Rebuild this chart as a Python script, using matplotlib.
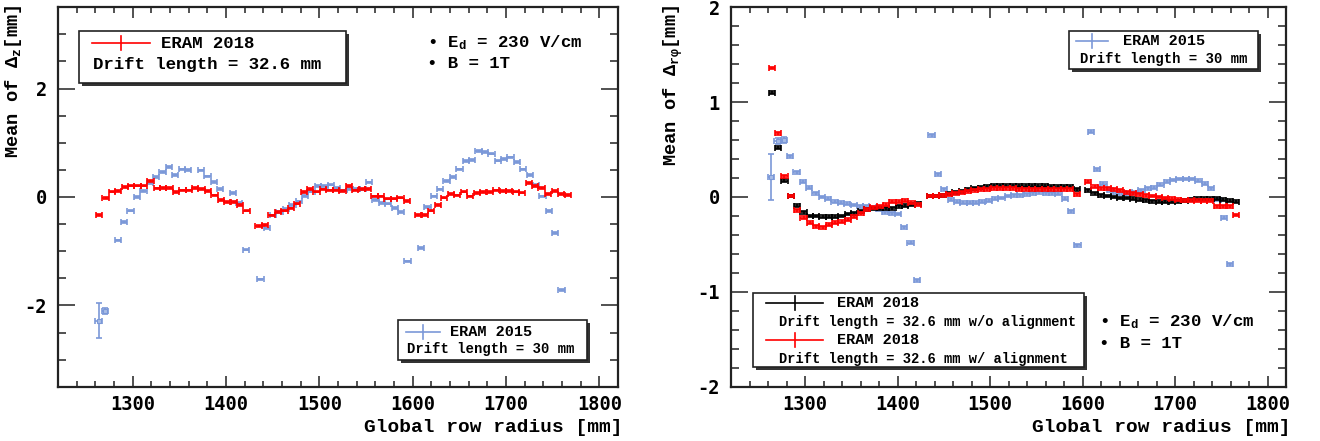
import numpy as np
import matplotlib
matplotlib.use('Agg')
import matplotlib.pyplot as plt
from matplotlib.lines import Line2D
from matplotlib.patches import Rectangle
from matplotlib.ticker import MultipleLocator

# ---------------- data ----------------
# ERAM 2018 row radii (three modules)
R18_M1 = [1264.0, 1270.9, 1277.7, 1284.6, 1291.5, 1298.4, 1305.2, 1312.1, 1319.0, 1325.8, 1332.7, 1339.6,
          1346.4, 1353.3, 1360.2, 1367.1, 1373.9, 1380.8, 1387.7, 1394.5, 1401.4, 1408.3, 1415.1, 1422.0]
R18_M2 = [1435.0, 1441.9, 1448.8, 1455.7, 1462.6, 1469.5, 1476.4, 1483.3, 1490.2, 1497.1, 1504.0, 1510.9,
          1517.8, 1524.7, 1531.6, 1538.5, 1545.4, 1552.3, 1559.2, 1566.1, 1573.0, 1579.9, 1586.8, 1593.7]
R18_M3 = [1606.0, 1613.0, 1619.9, 1626.9, 1633.8, 1640.8, 1647.8, 1654.7, 1661.7, 1668.6, 1675.6, 1682.6,
          1689.5, 1696.5, 1703.4, 1710.4, 1717.4, 1724.3, 1731.3, 1738.2, 1745.2, 1752.2, 1759.1, 1766.1]
# ERAM 2015 row radii
R15_M1 = [1263.5, 1270.4, 1277.2, 1284.1, 1290.9, 1297.8, 1304.6, 1311.5, 1318.3, 1325.2, 1332.0, 1338.9,
          1345.7, 1352.6, 1359.4, 1366.3, 1373.1, 1380.0, 1386.8, 1393.7, 1400.5, 1407.4, 1414.2, 1421.1]
R15_M2 = [1436.9, 1443.8, 1450.6, 1457.5, 1464.3, 1471.2, 1478.0, 1484.9, 1491.7, 1498.6, 1505.4, 1512.3,
          1519.1, 1526.0, 1532.8, 1539.7, 1546.5, 1553.4, 1560.2, 1567.1, 1573.9, 1580.8, 1587.6, 1594.5]
R15_M3 = [1608.9, 1615.8, 1622.6, 1629.5, 1636.3, 1643.2, 1650.0, 1656.9, 1663.7, 1670.6, 1677.4, 1684.3,
          1691.1, 1698.0, 1704.8, 1711.7, 1718.5, 1725.4, 1732.2, 1739.1, 1745.9, 1752.8, 1759.6]

NAN = float('nan')
# Left panel: mean of Delta_z
DZ_2018 = [-0.33, -0.02, 0.10, 0.11, 0.185, 0.21, 0.21, 0.21, 0.29, 0.16, 0.17, 0.17,
           0.09, 0.12, 0.12, 0.17, 0.15, 0.11, 0.03, -0.05, -0.09, -0.09, -0.15, -0.25,
           -0.54, -0.52, -0.34, -0.28, -0.25, -0.21, -0.12, 0.09, 0.15, 0.10, 0.14, 0.12,
           0.12, 0.11, 0.20, 0.12, 0.15, 0.15, 0.01, 0.01, -0.03, -0.03, -0.01, -0.07,
           -0.33, -0.33, -0.25, -0.15, -0.01, 0.06, 0.03, 0.10, 0.01, 0.07, 0.09, 0.09,
           0.12, 0.11, 0.11, 0.10, 0.08, 0.26, 0.20, 0.17, 0.06, 0.11, 0.05, 0.04]
DZ_2015 = [-2.28, -2.10, NAN, -0.80, -0.46, -0.25, 0.00, 0.11, 0.25, 0.37, 0.46, 0.55,
           0.41, 0.51, 0.50, NAN, 0.49, 0.38, 0.28, 0.15, NAN, 0.07, -0.11, -0.97,
           -1.52, -0.58, -0.34, -0.28, -0.22, -0.15, -0.08, 0.02, 0.10, 0.20, 0.20, 0.23,
           0.17, 0.12, 0.15, 0.15, 0.14, 0.27, -0.06, -0.11, -0.12, -0.20, -0.28, -1.19,
           -0.94, -0.18, 0.01, 0.14, 0.29, 0.37, 0.51, 0.66, 0.68, 0.85, 0.83, 0.80,
           0.67, 0.70, 0.73, 0.65, 0.51, 0.41, 0.23, 0.01, -0.26, -0.66, -1.72]
DZ_2015_ERR_FIRST = [0.32, 0.05]

# Right panel: mean of Delta_rphi
DRP_2018_NOALIGN = [1.10, 0.52, 0.17, 0.01, -0.09, -0.16, -0.20, -0.20, -0.21, -0.21, -0.21, -0.20,
                    -0.18, -0.17, -0.15, -0.13, -0.12, -0.12, -0.12, -0.12, -0.10, -0.09, -0.08, -0.07,
                    0.01, 0.01, 0.02, 0.035, 0.05, 0.06, 0.075, 0.09, 0.10, 0.11, 0.12, 0.12,
                    0.12, 0.12, 0.12, 0.12, 0.12, 0.12, 0.12, 0.11, 0.11, 0.11, 0.11, 0.08,
                    0.07, 0.04, 0.02, 0.01, 0.00, -0.01, -0.01, -0.02, -0.03, -0.035, -0.045, -0.05,
                    -0.05, -0.05, -0.045, -0.04, -0.03, -0.02, -0.02, -0.02, -0.02, -0.03, -0.04, -0.05]
DRP_2018_ALIGN = [1.36, 0.67, 0.22, 0.01, -0.14, -0.22, -0.27, -0.31, -0.32, -0.29, -0.27, -0.26,
                  -0.24, -0.21, -0.17, -0.13, -0.11, -0.10, -0.08, -0.05, -0.05, -0.04, -0.06, -0.08,
                  0.01, 0.01, 0.02, 0.03, 0.04, 0.05, 0.06, 0.07, 0.08, 0.08, 0.09, 0.09,
                  0.09, 0.09, 0.08, 0.08, 0.08, 0.08, 0.08, 0.08, 0.08, 0.08, 0.08, 0.03,
                  0.16, 0.11, 0.09, 0.09, 0.08, 0.07, 0.05, 0.04, 0.03, 0.02, 0.01, 0.00,
                  -0.01, -0.02, -0.03, -0.035, -0.035, -0.04, -0.04, -0.04, -0.10, -0.10, -0.10, -0.19]
DRP_2015 = [0.21, 0.59, 0.60, 0.43, 0.26, 0.16, 0.10, 0.04, 0.00, -0.02, -0.05, -0.06,
            -0.07, -0.085, -0.10, -0.10, -0.11, -0.13, -0.16, -0.17, -0.18, -0.32, -0.48, -0.88,
            0.65, 0.24, 0.08, -0.03, -0.05, -0.06, -0.06, -0.06, -0.05, -0.04, -0.02, -0.01,
            0.01, 0.02, 0.02, 0.03, 0.04, 0.05, 0.04, 0.04, 0.035, -0.02, -0.15, -0.51,
            0.69, 0.29, 0.14, 0.07, 0.05, 0.04, 0.04, 0.05, 0.07, 0.09, 0.10, 0.13,
            0.16, 0.18, 0.19, 0.19, 0.19, 0.17, 0.14, 0.09, -0.03, -0.22, -0.71]
DRP_2015_ERR_FIRST = [0.24, 0.035, 0.035]

ROW_HALF = 3.4      # half row pitch (x error), mm
YERR_DEFAULT = 0.015

# ---------------- style ----------------
W, H = 1320, 441
plt.rcParams['font.family'] = ['DejaVu Sans Mono']
plt.rcParams['font.weight'] = 'bold'
plt.rcParams['axes.unicode_minus'] = False
plt.rcParams['mathtext.fontset'] = 'custom'
plt.rcParams['mathtext.rm'] = 'Liberation Mono:bold'
plt.rcParams['mathtext.it'] = 'Liberation Mono:bold'
plt.rcParams['mathtext.bf'] = 'Liberation Mono:bold'

MONO = ['Liberation Mono', 'DejaVu Sans Mono']
RED = '#ff0000'
BLUE = '#7b98d8'
BLACK = '#000000'
AXC = '#222222'

fig = plt.figure(figsize=(W / 100, H / 100), dpi=100)


def fx(x):
    return x / W


def fy(y):
    return 1 - y / H


axL = fig.add_axes([58 / W, 1 - 386.7 / H, 560 / W, 379.4 / H])
axR = fig.add_axes([731 / W, 1 - 386.7 / H, 555 / W, 379.4 / H])


def setup(ax, ylim, ymaj, ymin):
    ax.set_xlim(1220, 1820)
    ax.set_ylim(*ylim)
    ax.xaxis.set_major_locator(MultipleLocator(100))
    ax.xaxis.set_minor_locator(MultipleLocator(20))
    ax.yaxis.set_major_locator(MultipleLocator(ymaj))
    ax.yaxis.set_minor_locator(MultipleLocator(ymin))
    ax.tick_params(axis='both', which='both', direction='in', top=True, right=True,
                   width=1.1, color=AXC, labelsize=13.5)
    ax.tick_params(axis='x', which='major', length=8, pad=6)
    ax.tick_params(axis='x', which='minor', length=4.5)
    ax.tick_params(axis='y', which='major', length=12, pad=8)
    ax.tick_params(axis='y', which='minor', length=6)
    for s in ax.spines.values():
        s.set_linewidth(1.6)
        s.set_color(AXC)


setup(axL, (-3.5, 3.5), 2, 0.5)
setup(axR, (-2, 2), 1, 0.2)

R18 = np.array(R18_M1 + R18_M2 + R18_M3)
R15 = np.array(R15_M1 + R15_M2 + R15_M3)


def draw(ax, x, y, yerr, color, z):
    y = np.asarray(y, dtype=float)
    ax.errorbar(x, y, xerr=ROW_HALF, yerr=yerr, fmt='none', ecolor=color,
                elinewidth=1.2, capsize=2.3, capthick=1.2, zorder=z)


def err15(first, n):
    e = np.full(n, YERR_DEFAULT)
    e[:len(first)] = first
    return e


eL15 = err15(DZ_2015_ERR_FIRST, len(R15))
draw(axL, R15, DZ_2015, eL15, BLUE, 2)
mL = eL15 > 0.03
axL.plot(R15[mL], np.array(DZ_2015)[mL], 's', ms=2.6, mfc='#a8bce6', mec=BLUE, mew=0.8, zorder=2)
draw(axL, R18, DZ_2018, YERR_DEFAULT, RED, 3)

eR15 = err15(DRP_2015_ERR_FIRST, len(R15))
draw(axR, R15, DRP_2015, eR15, BLUE, 2)
mR = eR15 > 0.03
axR.plot(R15[mR], np.array(DRP_2015)[mR], 's', ms=2.6, mfc='#a8bce6', mec=BLUE, mew=0.8, zorder=2)
draw(axR, R18, DRP_2018_NOALIGN, YERR_DEFAULT, BLACK, 3)
draw(axR, R18, DRP_2018_ALIGN, YERR_DEFAULT, RED, 4)

# axis titles
fig.text(fx(14), fy(5), r'Mean of $\Delta_{z}$[mm]', rotation=90, ha='center', va='top',
         family=MONO, weight='bold', size=13.5)
fig.text(fx(673), fy(5), r'Mean of $\Delta_{r\varphi}$[mm]', rotation=90, ha='center', va='top',
         family=MONO, weight='bold', size=13.5)
fig.text(fx(622), fy(428), 'Global row radius [mm]', ha='right', va='center',
         family=MONO, weight='bold', size=14)
fig.text(fx(1290), fy(428), 'Global row radius [mm]', ha='right', va='center',
         family=MONO, weight='bold', size=14)


# ---------------- legends ----------------
def box(x0, y0, x1, y1):
    sh = Rectangle((fx(x0 + 2.5), fy(y1 + 2.5)), (x1 - x0) / W, (y1 - y0) / H,
                   transform=fig.transFigure, facecolor='#333333', edgecolor='none', zorder=10)
    bx = Rectangle((fx(x0), fy(y1)), (x1 - x0) / W, (y1 - y0) / H,
                   transform=fig.transFigure, facecolor='white', edgecolor='#222222',
                   lw=1.2, zorder=11)
    fig.add_artist(sh)
    fig.add_artist(bx)


def sym(x0, x1, y, color):
    fig.add_artist(Line2D([fx(x0), fx(x1)], [fy(y), fy(y)], color=color, lw=1.2,
                          transform=fig.transFigure, zorder=12))
    xm = (x0 + x1) / 2
    fig.add_artist(Line2D([fx(xm), fx(xm)], [fy(y - 7), fy(y + 7)], color=color, lw=1.2,
                          transform=fig.transFigure, zorder=12))


def txt(x, y, s, size):
    fig.text(fx(x), fy(y), s, ha='left', va='center', family=MONO, weight='bold',
             size=size, zorder=12)


# left panel
box(79, 31, 346, 83)
sym(92, 150, 43, RED)
txt(161, 43, 'ERAM 2018', 12.5)
txt(93, 64, 'Drift length = 32.6 mm', 12.5)

box(398, 320, 587, 360)
sym(406, 440, 331.5, BLUE)
txt(450, 331.5, 'ERAM 2015', 11)
txt(406.5, 349, 'Drift length = 30 mm', 10)

txt(427, 43, '\u2022 E$_{\\mathrm{d}}$ = 230 V/cm', 12.5)
txt(427, 64, '\u2022 B = 1T', 12.5)

# right panel
box(1069, 31, 1258, 69)
sym(1076, 1108, 41, BLUE)
txt(1123, 41, 'ERAM 2015', 11)
txt(1080, 59, 'Drift length = 30 mm', 10)

box(753, 293, 1084, 367)
sym(766, 823, 302.7, BLACK)
txt(837, 302.7, 'ERAM 2018', 11)
txt(779, 321.7, 'Drift length = 32.6 mm w/o alignment', 9.9)
sym(766, 823, 340, RED)
txt(837, 340, 'ERAM 2018', 11)
txt(779, 359, 'Drift length = 32.6 mm w/ alignment', 9.9)

txt(1099, 321.7, '\u2022 E$_{\\mathrm{d}}$ = 230 V/cm', 12.5)
txt(1099, 343.3, '\u2022 B = 1T', 12.5)

fig.savefig('out.png', dpi=100, facecolor='white')
